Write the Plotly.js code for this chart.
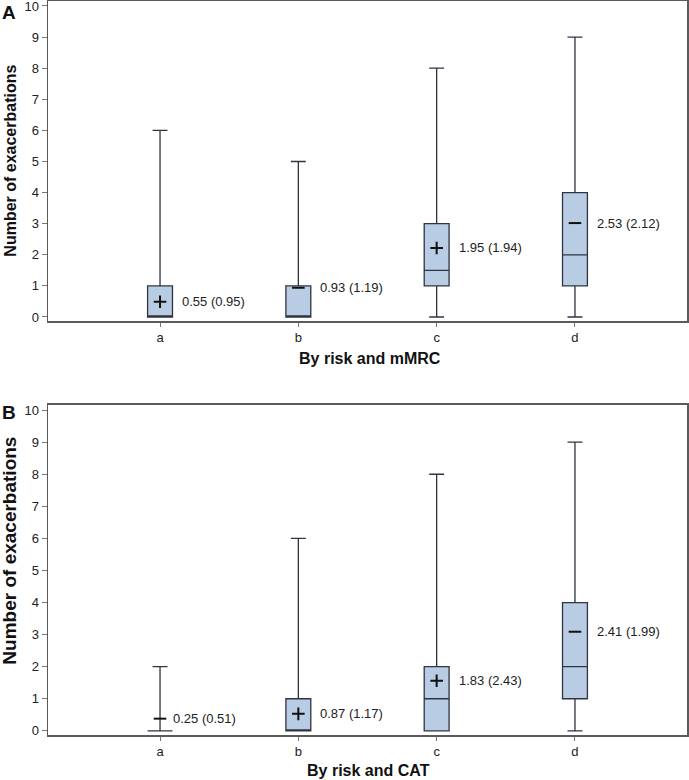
<!DOCTYPE html>
<html>
<head>
<meta charset="utf-8">
<script src="https://cdn.plot.ly/plotly-3.0.1.min.js"></script>
<style>html,body{margin:0;padding:0;background:#fff}#chart{width:689px;height:780px}</style>
</head>
<body>
<div id="chart"></div>
<script>
// ---- data ----
const categories = ['a', 'b', 'c', 'd'];

// Panel A: by risk and mMRC
const aMin    = [0, 0, 0, 0];
const aQ1     = [0, 0, 1, 1];
const aMedian = [0, 0, 1.5, 2];
const aQ3     = [1, 1, 3, 4];
const aMax    = [6, 5, 8, 9];
const aMarkerY   = [0.49, 0.94, 2.22, 3.02];
const aMarkerSym = ['+', '-', '+', '-'];
const aLabels    = ['0.55 (0.95)', '0.93 (1.19)', '1.95 (1.94)', '2.53 (2.12)'];

// Panel B: by risk and CAT
const bMin    = [0, 0, 0, 0];
const bQ1     = [0, 0, 0, 1];
const bMedian = [0, 0, 1, 2];
const bQ3     = [0, 1, 2, 4];
const bMax    = [2, 6, 8, 9];
const bMarkerY   = [0.38, 0.53, 1.56, 3.09];
const bMarkerSym = ['-', '+', '+', '-'];
const bLabels    = ['0.25 (0.51)', '0.87 (1.17)', '1.83 (2.43)', '2.41 (1.99)'];

const yTicks = [0,1,2,3,4,5,6,7,8,9,10];

// ---- styling ----
const FONT = 'Liberation Sans, Arial, sans-serif';
const boxFill = '#b8cce4';
const boxLine = '#2e3440';

function boxTrace(q1, med, q3, lo, hi, xa, ya) {
  return {
    type: 'box', x: categories, q1: q1, median: med, q3: q3,
    lowerfence: lo, upperfence: hi,
    xaxis: xa, yaxis: ya, boxpoints: false,
    width: 0.18, whiskerwidth: 0.6,
    fillcolor: boxFill, line: {color: boxLine, width: 1.3},
    hoverinfo: 'skip', showlegend: false
  };
}
function markerTrace(ys, syms, xa, ya) {
  return {
    type: 'scatter', mode: 'markers', x: categories, y: ys,
    xaxis: xa, yaxis: ya,
    marker: {
      symbol: syms.map(s => s === '+' ? 'cross-thin-open' : 'line-ew-open'),
      size: 9, color: '#111', line: {color: '#111', width: 2}
    },
    hoverinfo: 'skip', showlegend: false
  };
}

const data = [
  boxTrace(aQ1, aMedian, aQ3, aMin, aMax, 'x', 'y'),
  markerTrace(aMarkerY, aMarkerSym, 'x', 'y'),
  boxTrace(bQ1, bMedian, bQ3, bMin, bMax, 'x2', 'y2'),
  markerTrace(bMarkerY, bMarkerSym, 'x2', 'y2')
];

function labelAnns(ys, labels, q1, q3, xref, yref) {
  return categories.map((c, i) => ({
    x: c, y: ys[i], xref: xref, yref: yref,
    text: labels[i], showarrow: false, xanchor: 'left', yanchor: 'middle',
    xshift: (q1[i] === q3[i]) ? 11 : 20,
    font: {family: FONT, size: 13, color: '#222'}
  }));
}

const xAxisBase = {
  type: 'category', range: [-0.81, 3.81], showgrid: false, zeroline: false,
  showline: true, mirror: true, linecolor: '#5a5a5a', linewidth: 1.5,
  ticks: 'outside', ticklen: 4, tickcolor: '#777',
  tickfont: {family: FONT, size: 13, color: '#222'}, fixedrange: true
};
const yAxisBase = {
  range: [-0.13, 10.16], tickvals: yTicks, showgrid: false, zeroline: false,
  showline: true, mirror: true, linecolor: '#5a5a5a', linewidth: 1.5,
  ticks: 'outside', ticklen: 5, tickcolor: '#777', ticklabeloverflow: 'allow',
  tickfont: {family: FONT, size: 13, color: '#222'}, fixedrange: true
};

const layout = {
  width: 689, height: 780,
  margin: {l: 48, r: 2, t: 1, b: 45},
  paper_bgcolor: '#fff', plot_bgcolor: '#fff',
  showlegend: false,
  xaxis:  Object.assign({}, xAxisBase, {domain: [0, 1], anchor: 'y'}),
  yaxis:  Object.assign({}, yAxisBase, {domain: [0.564, 1], anchor: 'x'}),
  xaxis2: Object.assign({}, xAxisBase, {domain: [0, 1], anchor: 'y2'}),
  yaxis2: Object.assign({}, yAxisBase, {domain: [0, 0.4496], anchor: 'x2'}),
  annotations: [
    ...labelAnns(aMarkerY, aLabels, aQ1, aQ3, 'x', 'y'),
    ...labelAnns(bMarkerY, bLabels, bQ1, bQ3, 'x2', 'y2'),
    {text: '<b>Number of exacerbations</b>', xref: 'paper', yref: 'paper', x: -0.06, y: 0.782,
     textangle: -90, showarrow: false, xanchor: 'center', yanchor: 'middle',
     font: {family: FONT, size: 16, color: '#111'}},
    {text: '<b>Number of exacerbations</b>', xref: 'paper', yref: 'paper', x: -0.06, y: 0.2507,
     textangle: -90, showarrow: false, xanchor: 'center', yanchor: 'middle',
     font: {family: FONT, size: 19, color: '#111'}},
    {text: '<b>By risk and mMRC</b>', xref: 'paper', yref: 'paper', x: 0.504, y: 0.5136,
     showarrow: false, xanchor: 'center', yanchor: 'middle',
     font: {family: FONT, size: 16, color: '#111'}},
    {text: '<b>By risk and CAT</b>', xref: 'paper', yref: 'paper', x: 0.502, y: -0.049,
     showarrow: false, xanchor: 'center', yanchor: 'middle',
     font: {family: FONT, size: 16, color: '#111'}},
    {text: '<b>A</b>', xref: 'paper', yref: 'paper', x: -0.061, y: 0.9837,
     showarrow: false, xanchor: 'center', yanchor: 'middle',
     font: {family: FONT, size: 19, color: '#111'}},
    {text: '<b>B</b>', xref: 'paper', yref: 'paper', x: -0.061, y: 0.4387,
     showarrow: false, xanchor: 'center', yanchor: 'middle',
     font: {family: FONT, size: 19, color: '#111'}}
  ]
};

Plotly.newPlot('chart', data, layout, {displayModeBar: false, staticPlot: true});
</script>
</body>
</html>
